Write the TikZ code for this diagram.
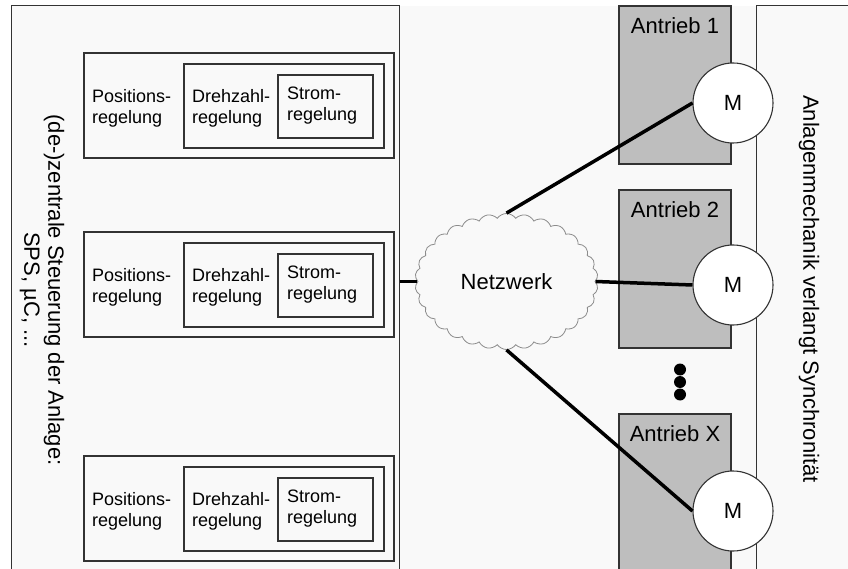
\documentclass[tikz,border=0pt]{standalone}
\usepackage{fontspec}
\setmainfont{Liberation Sans}
\usetikzlibrary{shapes.symbols}
\definecolor{bg}{HTML}{F9F9F9}
\definecolor{edge}{HTML}{333333}
\definecolor{drivefill}{HTML}{BEBEBE}
\definecolor{cloudedge}{HTML}{8C8C8C}
\begin{document}
\begin{tikzpicture}[x=1pt,y=-1pt,
  box/.style={draw=edge, line width=1.2pt, rectangle, inner sep=0pt},
  ctext/.style={font=\fontsize{18}{21}\selectfont, align=left, inner sep=0pt, anchor=west},
  big/.style={font=\fontsize{22}{24}\selectfont},
  drive/.style={draw=edge, fill=drivefill, line width=1.1pt, minimum width=112pt, minimum height=158pt, inner sep=0pt},
  motor/.style={circle, draw=edge, fill=white, line width=1.1pt, minimum size=80pt, inner sep=0pt, big},
  link/.style={line width=3.5pt, black},
  dotmark/.style={circle, fill=black, minimum size=12pt, inner sep=0pt},
  net/.style={cloud, cloud puffs=30, cloud puff arc=110, draw=cloudedge, line width=0.8pt, fill=bg, minimum width=183pt, minimum height=131pt, big, inner sep=0pt}]
\useasboundingbox (0,0) rectangle (848,569);
\clip (0,0) rectangle (848,569);
\fill[bg] (11,6) rectangle (848,569);

% left control area
\node[draw=edge, line width=1pt, minimum width=388pt, minimum height=620pt, inner sep=0pt] (lbox) at (205,316) {};
\node[big, align=center, rotate=-90, inner sep=0pt] (ctl) at (42,290) {(de-)zentrale Steuerung der Anlage:\\SPS, µC, ...};

\foreach \T/\n in {53/1,232/2,456/3}{
  \node[box, minimum width=310pt, minimum height=105pt] (outer\n) at (239,\T+52.5) {};
  \node[box, minimum width=200pt, minimum height=84pt] (mid\n) at (284,\T+53) {};
  \node[box, minimum width=95pt, minimum height=63pt] (inner\n) at (325.5,\T+53.5) {};
  \node[ctext] (pos\n) at (92,\T+55) {Positions-\\regelung};
  \node[ctext] (dz\n) at (192,\T+55) {Drehzahl-\\regelung};
  \node[ctext] (st\n) at (287,\T+53) {Strom-\\regelung};
}

% drives
\node[drive] (a1) at (675,85) {};
\node[drive] (a2) at (675,269) {};
\node[drive] (ax) at (675,493) {};
\node[big, inner sep=0pt] (a1t) at (675,26) {Antrieb 1};
\node[big, inner sep=0pt] (a2t) at (675,210) {Antrieb 2};
\node[big, inner sep=0pt] (axt) at (675,434) {Antrieb X};

% mechanics
\node[draw=edge, line width=1pt, minimum width=160pt, minimum height=620pt, inner sep=0pt] (mbox) at (836,316) {};
\node[big, rotate=-90, inner sep=0pt] (mech) at (809,289) {Anlagenmechanik verlangt Synchronität};

% dots
\node[dotmark] (d1) at (680,369.5) {};
\node[dotmark] (d2) at (680,382) {};
\node[dotmark] (d3) at (680,394.5) {};

% network
\node[net] (cl) at (506.5,281.5) {Netzwerk};

% motors
\node[motor] (m1) at (733,103) {M};
\node[motor] (m2) at (733,285) {M};
\node[motor] (mx) at (733,511) {M};

% links
\draw[link] (cl.west -| lbox.east) -- (cl.west);
\draw[link] (cl.north) -- (m1.west);
\draw[link] (cl.east) -- (m2.west);
\draw[link] (cl.south) -- (mx.west);
\end{tikzpicture}
\end{document}
